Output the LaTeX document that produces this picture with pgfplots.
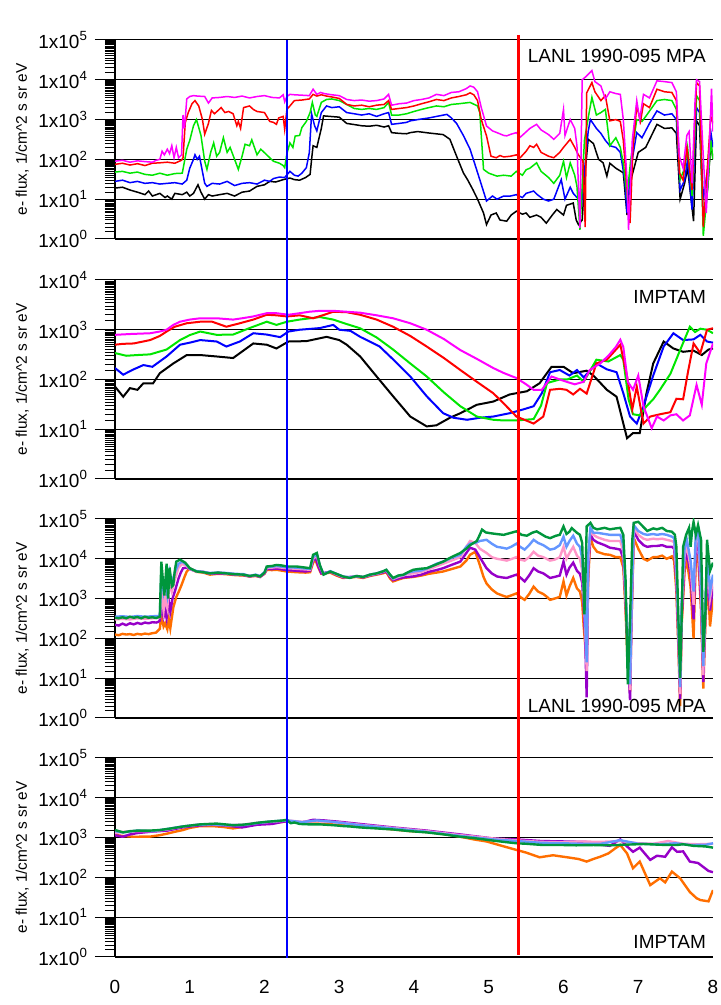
\documentclass[border=0pt]{standalone}
\usepackage{fontspec}
\setmainfont{Liberation Sans}
\usepackage{pgfplots}
\pgfplotsset{compat=1.18}
\pgfplotsset{/pgf/number format/assume math mode=true}

\definecolor{cMag}{RGB}{255,0,255}
\definecolor{cRed}{RGB}{255,0,0}
\definecolor{cGrn}{RGB}{0,230,0}
\definecolor{cBlu}{RGB}{0,0,255}
\definecolor{cOrg}{RGB}{255,110,0}
\definecolor{cPur}{RGB}{150,0,200}
\definecolor{cPnk}{RGB}{255,150,200}
\definecolor{cLbl}{RGB}{100,150,255}
\definecolor{cDgr}{RGB}{0,150,60}

\pgfplotsset{
  panel/.style={
    scale only axis, width=299pt, height=99.5pt,
    xmin=0, xmax=8, ymin=1, ymax=1e5,
    axis x line*=bottom, axis y line*=left,
    axis line style={-, line width=0.6pt},
    tick align=outside,
    major tick length=10pt, minor tick length=5pt,
    every tick/.style={black, line width=0.5pt},
    xtick={0,...,8}, xtick style={draw=none},
    minor xtick={0,...,8},
    ytick={1,10,100,1000,10000,100000},
    yticklabels={1x10\textsuperscript{0},1x10\textsuperscript{1},1x10\textsuperscript{2},1x10\textsuperscript{3},1x10\textsuperscript{4},1x10\textsuperscript{5}},
    minor ytick={1.5,2,2.5,3,3.5,4,4.5,5,5.5,6,6.5,7,7.5,8,8.5,9,9.5,15,20,25,30,35,40,45,50,55,60,65,70,75,80,85,90,95,150,200,250,300,350,400,450,500,550,600,650,700,750,800,850,900,950,1500,2000,2500,3000,3500,4000,4500,5000,5500,6000,6500,7000,7500,8000,8500,9000,9500,15000,20000,25000,30000,35000,40000,45000,50000,55000,60000,65000,70000,75000,80000,85000,90000,95000},
    ymajorgrids, major grid style={black, line width=0.5pt},
    ticklabel style={font=\fontsize{9.5}{11}\selectfont},
    ylabel={e- flux, 1/cm\textasciicircum2 s sr eV},
    ylabel style={at={(axis description cs:-0.155,0.5)}, rotate=0, anchor=center, font=\fontsize{7.7}{9}\selectfont},
    xticklabels={},
  },
  thinl/.style={line width=0.75pt},
  midl/.style={line width=1pt},
  thickl/.style={line width=1.2pt},
}

\begin{document}
\begin{tikzpicture}
\useasboundingbox (0,0) rectangle (360pt,502.5pt);

% ---------------- panel 1: LANL, 5 energies
\begin{axis}[ymode=log, panel, at={(57.5pt,383pt)}, anchor=south west]
\addplot[thinl, black] coordinates {(0,19) (0.1,20) (0.2,17) (0.3,15) (0.4,13) (0.45,16) (0.5,12) (0.6,14) (0.67,11) (0.7,12) (0.76,10) (0.8,14) (0.9,13) (0.96,15) (1.0,12) (1.05,14) (1.11,23) (1.15,15) (1.2,10) (1.25,13) (1.3,12) (1.4,13) (1.5,14) (1.6,12) (1.7,15) (1.8,16) (1.9,21) (2.0,23) (2.07,28) (2.15,27) (2.25,31) (2.34,34) (2.4,31) (2.47,30) (2.55,35) (2.61,42) (2.63,100) (2.65,220) (2.7,200) (2.76,600) (2.79,1240) (2.88,1200) (3.0,1150) (3.1,800) (3.2,750) (3.3,700) (3.4,680) (3.5,720) (3.6,650) (3.66,700) (3.7,470) (3.8,450) (3.9,440) (3.95,470) (4.05,500) (4.2,460) (4.39,420) (4.48,320) (4.57,120) (4.66,46) (4.72,30) (4.79,17) (4.85,10) (4.93,4.5) (4.97,2.3) (5.03,4) (5.1,4.5) (5.15,3) (5.24,2.8) (5.3,4) (5.37,5) (5.45,4.2) (5.5,4.5) (5.55,3.5) (5.64,4) (5.7,3.5) (5.77,2.5) (5.85,4) (5.91,5.5) (6.0,4) (6.04,7) (6.13,8) (6.17,3) (6.2,2.3) (6.25,3) (6.29,50) (6.33,320) (6.4,250) (6.47,100) (6.53,82) (6.58,38) (6.62,80) (6.7,60) (6.8,46) (6.85,4) (6.9,30) (7.0,150) (7.1,200) (7.25,760) (7.35,600) (7.45,620) (7.51,450) (7.56,10) (7.62,25) (7.66,60) (7.74,2.8) (7.78,930) (7.82,700) (7.87,3) (7.93,20) (7.97,250) (8.0,100)};
\addplot[thinl, cBlu] coordinates {(0,28) (0.1,30) (0.2,26) (0.3,28) (0.4,25) (0.5,26) (0.6,24) (0.7,25) (0.8,26) (0.9,24) (0.96,30) (1.0,60) (1.05,100) (1.07,130) (1.1,100) (1.13,120) (1.2,25) (1.23,21) (1.3,25) (1.4,24) (1.5,28) (1.6,22) (1.7,25) (1.8,26) (1.9,24) (2.0,30) (2.07,28) (2.12,33) (2.2,36) (2.27,35) (2.34,50) (2.4,40) (2.45,38) (2.5,45) (2.56,62) (2.6,150) (2.63,1400) (2.67,700) (2.7,520) (2.76,1500) (2.83,2200) (2.9,2000) (3.0,2100) (3.1,1500) (3.2,1400) (3.3,1300) (3.4,1400) (3.5,1200) (3.6,1400) (3.66,1500) (3.7,760) (3.8,800) (3.9,850) (3.95,930) (4.05,1000) (4.2,1100) (4.3,1200) (4.44,1350) (4.5,1100) (4.57,800) (4.66,400) (4.75,180) (4.82,70) (4.88,31) (4.97,9) (5.05,12) (5.11,10) (5.2,12) (5.29,12) (5.37,13) (5.45,11) (5.5,14) (5.6,16) (5.65,13) (5.73,10) (5.8,9) (5.87,10) (5.97,31) (6.02,10) (6.09,20) (6.13,14) (6.2,10) (6.24,6.6) (6.28,50) (6.33,500) (6.36,1000) (6.44,600) (6.5,450) (6.56,300) (6.62,220) (6.7,200) (6.76,150) (6.82,30) (6.85,4.5) (6.9,60) (6.98,470) (7.05,350) (7.15,800) (7.25,1650) (7.35,1300) (7.45,1400) (7.51,1000) (7.56,17) (7.62,30) (7.66,100) (7.72,5.5) (7.78,2000) (7.82,1500) (7.87,10) (7.93,60) (7.97,500) (8.0,200)};
\addplot[thinl, cGrn] coordinates {(0,48) (0.1,50) (0.2,45) (0.3,48) (0.4,42) (0.5,40) (0.6,45) (0.7,40) (0.8,44) (0.9,45) (0.96,180) (1.0,300) (1.05,700) (1.09,1000) (1.15,400) (1.2,90) (1.23,56) (1.28,150) (1.32,260) (1.36,120) (1.4,150) (1.45,350) (1.5,150) (1.54,200) (1.6,100) (1.65,56) (1.7,120) (1.74,240) (1.8,220) (1.83,310) (1.9,130) (1.95,180) (1.98,160) (2.07,110) (2.12,90) (2.2,80) (2.25,70) (2.27,62) (2.3,140) (2.34,260) (2.38,200) (2.41,385) (2.47,400) (2.5,630) (2.56,900) (2.61,1500) (2.64,2700) (2.68,1300) (2.7,1200) (2.76,2700) (2.83,3200) (2.9,3300) (3.0,3000) (3.1,2400) (3.2,1900) (3.3,1800) (3.4,1900) (3.5,1800) (3.6,2000) (3.66,2700) (3.7,1300) (3.8,1300) (3.9,1400) (4.0,1600) (4.1,1800) (4.2,2000) (4.3,2200) (4.4,2100) (4.5,2400) (4.6,2500) (4.75,2700) (4.85,2200) (4.88,1500) (4.93,56) (5.0,45) (5.11,38) (5.2,40) (5.3,38) (5.37,50) (5.45,40) (5.5,55) (5.55,60) (5.64,82) (5.7,50) (5.8,35) (5.87,25) (5.95,40) (6.0,90) (6.04,35) (6.09,82) (6.15,40) (6.18,21) (6.22,1.7) (6.28,300) (6.33,1100) (6.38,3600) (6.44,1300) (6.5,1500) (6.56,1800) (6.62,220) (6.7,350) (6.76,200) (6.8,80) (6.85,12) (6.9,100) (6.98,1000) (7.05,900) (7.1,1200) (7.25,3000) (7.35,3200) (7.45,3000) (7.51,1800) (7.56,31) (7.62,60) (7.66,200) (7.72,12) (7.78,4000) (7.82,3000) (7.87,1.2) (7.93,20) (7.97,300) (8.0,100)};
\addplot[thinl, cRed] coordinates {(0,75) (0.1,80) (0.2,72) (0.3,78) (0.4,70) (0.5,80) (0.6,82) (0.7,85) (0.8,80) (0.89,95) (0.91,110) (0.94,840) (0.98,1500) (1.03,2500) (1.07,3000) (1.12,2200) (1.17,1000) (1.2,430) (1.25,800) (1.29,1700) (1.33,1400) (1.38,1700) (1.42,2000) (1.47,1500) (1.52,1600) (1.58,1400) (1.63,700) (1.65,900) (1.68,600) (1.72,2000) (1.8,2200) (1.85,1800) (1.9,1600) (2.0,1500) (2.07,900) (2.12,850) (2.16,760) (2.19,1100) (2.25,1200) (2.27,570) (2.3,1800) (2.34,2200) (2.4,3000) (2.5,3100) (2.6,3300) (2.65,4300) (2.7,3900) (2.76,4200) (2.83,3900) (2.9,3700) (3.0,3400) (3.1,2400) (3.2,2200) (3.3,2300) (3.4,2100) (3.5,2300) (3.6,2400) (3.66,3000) (3.7,1800) (3.8,1900) (3.9,2000) (4.0,2200) (4.1,2500) (4.2,2800) (4.3,3200) (4.4,3000) (4.5,3500) (4.6,3800) (4.7,4200) (4.75,4700) (4.8,4200) (4.85,3000) (4.9,1000) (4.97,390) (5.03,120) (5.1,110) (5.15,125) (5.2,115) (5.29,120) (5.37,130) (5.42,110) (5.5,160) (5.55,220) (5.6,200) (5.64,240) (5.7,150) (5.8,120) (5.87,110) (5.95,150) (6.0,200) (6.09,320) (6.15,200) (6.2,130) (6.26,90) (6.29,2) (6.31,4700) (6.38,8500) (6.42,5000) (6.5,3000) (6.56,4000) (6.62,930) (6.7,1000) (6.76,900) (6.8,300) (6.85,17) (6.89,2.5) (6.93,200) (6.98,2200) (7.03,900) (7.07,2500) (7.15,2000) (7.25,5800) (7.35,5000) (7.45,4800) (7.51,3000) (7.55,46) (7.6,30) (7.65,200) (7.72,17) (7.78,8500) (7.82,7000) (7.87,2) (7.92,46) (7.97,1200) (8.0,800)};
\addplot[thinl, cMag] coordinates {(0,90) (0.1,95) (0.2,85) (0.3,92) (0.4,88) (0.5,85) (0.55,95) (0.6,100) (0.63,160) (0.66,130) (0.7,180) (0.73,140) (0.76,220) (0.79,110) (0.82,200) (0.85,110) (0.89,130) (0.91,1300) (0.93,600) (0.96,3300) (1.0,3800) (1.05,4000) (1.1,3900) (1.2,3800) (1.25,2600) (1.3,3500) (1.4,3600) (1.5,3800) (1.6,3600) (1.7,3900) (1.8,3500) (1.9,3800) (2.0,4000) (2.1,3600) (2.2,3500) (2.25,4200) (2.27,2800) (2.3,3800) (2.34,4300) (2.4,4200) (2.5,4100) (2.6,4000) (2.65,5800) (2.7,4300) (2.75,4800) (2.8,4500) (2.9,4200) (3.0,4000) (3.1,3200) (3.2,3000) (3.3,3100) (3.4,2900) (3.5,3000) (3.6,3300) (3.66,4300) (3.7,2300) (3.8,2500) (3.9,2600) (4.0,3000) (4.1,3200) (4.2,3500) (4.3,4300) (4.4,4000) (4.5,4800) (4.6,5000) (4.7,6000) (4.75,7000) (4.8,6500) (4.85,5000) (4.9,2000) (4.97,690) (5.05,520) (5.11,470) (5.2,400) (5.24,390) (5.3,430) (5.37,470) (5.42,360) (5.46,420) (5.55,600) (5.64,760) (5.7,550) (5.8,420) (5.87,320) (5.95,450) (6.0,1800) (6.02,400) (6.09,1000) (6.15,600) (6.18,220) (6.22,1.9) (6.25,10000) (6.3,12000) (6.38,17000) (6.42,9000) (6.5,7000) (6.56,3300) (6.62,5000) (6.7,4500) (6.76,4300) (6.8,1000) (6.85,30) (6.87,1.7) (6.92,300) (6.98,3000) (7.02,1000) (7.07,4300) (7.15,3500) (7.25,9400) (7.35,9000) (7.45,8500) (7.51,5000) (7.55,120) (7.6,60) (7.65,400) (7.68,500) (7.72,25) (7.76,3000) (7.78,10000) (7.82,9000) (7.87,120) (7.91,4.5) (7.95,200) (7.98,6000) (8.0,500)};
\node[anchor=east, font=\fontsize{9.5}{11}\selectfont] at (axis description cs:1,0.92) {LANL 1990-095 MPA};
\node[anchor=base, font=\fontsize{11}{13}\selectfont] at (axis description cs:0.51,1) [yshift=5.5pt] {May 15, 2005};
\coordinate (bTop) at (axis cs:2.3,1e5);
\coordinate (rTop) at (axis cs:5.4,1e5);
\end{axis}

% ---------------- panel 2: IMPTAM, 5 energies
\begin{axis}[ymode=log, panel, at={(57.5pt,263pt)}, anchor=south west, ymax=1e4,
  ytick={1,10,100,1000,10000},
  yticklabels={1x10\textsuperscript{0},1x10\textsuperscript{1},1x10\textsuperscript{2},1x10\textsuperscript{3},1x10\textsuperscript{4}},
  minor ytick={1.5,2,2.5,3,3.5,4,4.5,5,5.5,6,6.5,7,7.5,8,8.5,9,9.5,15,20,25,30,35,40,45,50,55,60,65,70,75,80,85,90,95,150,200,250,300,350,400,450,500,550,600,650,700,750,800,850,900,950,1500,2000,2500,3000,3500,4000,4500,5000,5500,6000,6500,7000,7500,8000,8500,9000,9500}]
\addplot[midl, black] coordinates {(0,72) (0.11,45) (0.2,67) (0.3,62) (0.38,84) (0.51,84) (0.6,134) (0.78,210) (0.96,310) (1.14,310) (1.36,290) (1.58,270) (1.85,530) (2.03,500) (2.16,420) (2.32,580) (2.56,590) (2.83,720) (3.0,620) (3.1,500) (3.28,290) (3.5,115) (3.72,46) (3.95,18) (4.17,11.4) (4.3,12) (4.48,17) (4.62,21) (4.84,31) (5.06,36) (5.28,50) (5.51,58) (5.68,84) (5.84,180) (6.0,180) (6.13,134) (6.31,150) (6.4,120) (6.58,62) (6.71,45) (6.85,6.6) (6.93,8.4) (7.02,8.4) (7.11,53) (7.2,210) (7.34,580) (7.47,420) (7.6,360) (7.74,380) (7.85,310) (7.94,400) (8.0,420)};
\addplot[midl, cBlu] coordinates {(0,170) (0.11,125) (0.25,160) (0.38,195) (0.5,180) (0.69,290) (0.87,500) (1.0,550) (1.14,620) (1.36,580) (1.49,460) (1.67,580) (1.85,850) (2.03,800) (2.21,710) (2.32,920) (2.47,1000) (2.74,1080) (2.92,1250) (3.0,1000) (3.15,950) (3.28,720) (3.54,460) (3.75,230) (3.95,115) (4.17,46) (4.39,21) (4.53,17) (4.71,15.5) (4.88,17) (5.06,18) (5.28,21) (5.46,25) (5.6,29) (5.71,53) (5.82,140) (5.95,155) (6.08,120) (6.18,155) (6.27,110) (6.44,210) (6.58,160) (6.71,140) (6.8,53) (6.89,18) (6.98,13) (7.07,29) (7.2,120) (7.34,460) (7.47,850) (7.6,620) (7.74,640) (7.83,790) (7.92,580) (8.0,550)};
\addplot[midl, cGrn] coordinates {(0,340) (0.15,300) (0.3,310) (0.47,320) (0.69,400) (0.87,620) (1.0,780) (1.14,920) (1.36,790) (1.58,800) (1.8,1080) (2.03,1450) (2.16,1250) (2.3,1450) (2.47,1600) (2.74,1800) (2.92,1600) (3.1,1300) (3.28,1070) (3.5,700) (3.72,400) (3.95,210) (4.17,115) (4.4,55) (4.62,29) (4.84,18) (5.06,15.5) (5.2,15) (5.37,15) (5.6,16) (5.7,30) (5.78,85) (5.95,100) (6.05,100) (6.18,120) (6.27,90) (6.44,250) (6.6,230) (6.76,310) (6.8,250) (6.87,40) (6.93,20) (7.02,19) (7.11,29) (7.2,40) (7.29,62) (7.43,130) (7.56,390) (7.69,1150) (7.76,900) (7.83,1050) (7.92,1000) (8.0,850)};
\addplot[midl, cRed] coordinates {(0,500) (0.1,520) (0.25,530) (0.47,620) (0.6,750) (0.69,920) (0.8,1150) (0.96,1350) (1.14,1450) (1.3,1450) (1.49,1150) (1.67,1350) (1.85,1600) (2.03,2000) (2.16,1950) (2.3,1850) (2.47,1950) (2.65,1700) (2.8,2000) (2.92,2300) (3.1,2250) (3.28,2000) (3.5,1600) (3.72,1150) (3.95,750) (4.17,460) (4.4,270) (4.62,155) (4.84,90) (5.06,53) (5.2,33) (5.37,18) (5.5,15) (5.6,13) (5.73,18) (5.82,62) (5.95,65) (6.04,62) (6.13,50) (6.22,65) (6.31,52) (6.44,210) (6.58,250) (6.76,500) (6.85,115) (6.92,25) (6.98,72) (7.07,13) (7.16,18) (7.29,20) (7.43,22) (7.51,41) (7.6,40) (7.67,155) (7.74,530) (7.83,340) (7.92,1000) (8.0,1070)};
\addplot[midl, cMag] coordinates {(0,790) (0.2,820) (0.47,850) (0.6,920) (0.69,1000) (0.78,1250) (0.87,1450) (1.0,1600) (1.14,1700) (1.36,1700) (1.58,1600) (1.7,1700) (1.85,1850) (2.03,2150) (2.16,2150) (2.32,2000) (2.47,2150) (2.6,2300) (2.74,2400) (2.92,2400) (3.1,2300) (3.28,2200) (3.5,1950) (3.72,1700) (3.95,1350) (4.17,1000) (4.4,650) (4.62,390) (4.84,260) (5.06,170) (5.2,135) (5.37,107) (5.5,80) (5.6,62) (5.71,62) (5.84,115) (5.95,100) (6.04,90) (6.15,80) (6.27,90) (6.35,155) (6.49,210) (6.6,300) (6.7,450) (6.76,630) (6.8,450) (6.86,90) (6.93,62) (7.0,120) (7.07,29) (7.18,10.5) (7.25,18) (7.34,15) (7.43,19) (7.51,20) (7.6,15) (7.69,19) (7.78,78) (7.85,31) (7.91,210) (8.0,530)};
\node[anchor=east, font=\fontsize{9.5}{11}\selectfont] at (axis description cs:1,0.915) {IMPTAM};
\end{axis}

% ---------------- panel 3: LANL, differential channels
\begin{axis}[ymode=log, panel, at={(57.5pt,143.5pt)}, anchor=south west]
\addplot[thickl, cOrg] coordinates {(0,125) (0.05,120) (0.1,130) (0.15,125) (0.2,128) (0.25,122) (0.3,130) (0.35,125) (0.4,132) (0.45,128) (0.5,135) (0.55,140) (0.58,160) (0.6,175) (0.62,390) (0.65,200) (0.67,240) (0.7,170) (0.72,300) (0.74,180) (0.78,600) (0.82,1100) (0.86,1600) (0.89,2200) (0.93,3500) (0.96,4800) (1.0,5800) (1.09,4700) (1.18,4500) (1.27,4000) (1.38,4200) (1.49,4100) (1.6,3900) (1.72,3800) (1.8,3600) (1.88,3700) (1.94,3500) (2.0,4200) (2.03,5300) (2.1,5200) (2.16,5300) (2.3,4800) (2.43,4600) (2.55,4500) (2.61,4600) (2.65,8000) (2.68,9500) (2.72,6000) (2.76,4200) (2.88,4500) (2.96,3800) (3.05,3300) (3.14,3400) (3.23,3500) (3.32,3300) (3.41,3700) (3.5,4000) (3.58,4300) (3.63,4600) (3.68,3200) (3.72,2700) (3.79,3000) (3.86,3300) (3.92,3400) (3.99,3500) (4.1,3800) (4.2,4200) (4.3,4500) (4.39,4800) (4.5,5500) (4.62,6400) (4.7,9000) (4.75,12600) (4.82,15000) (4.88,7000) (4.93,3500) (4.97,2400) (5.04,1700) (5.11,1350) (5.18,1200) (5.24,1100) (5.3,1200) (5.37,1350) (5.42,1100) (5.48,930) (5.54,1300) (5.6,2000) (5.66,1500) (5.73,1300) (5.78,1100) (5.82,930) (5.88,1000) (5.95,1100) (6.0,2700) (6.04,1200) (6.08,2000) (6.13,3300) (6.18,1800) (6.22,1500) (6.25,800) (6.27,200) (6.31,25) (6.33,3000) (6.36,33000) (6.4,20000) (6.45,15000) (6.55,13000) (6.62,12600) (6.7,11000) (6.76,11000) (6.8,6000) (6.83,500) (6.86,20) (6.89,4.5) (6.91,300) (6.94,33000) (7.0,18000) (7.07,10000) (7.12,9000) (7.2,11000) (7.25,11000) (7.32,12000) (7.38,10000) (7.45,11500) (7.48,9000) (7.51,1500) (7.54,40) (7.56,2) (7.58,200) (7.62,5000) (7.65,9000) (7.7,2000) (7.74,100) (7.77,10000) (7.8,12000) (7.84,500) (7.87,5.5) (7.9,300) (7.93,3000) (7.96,200) (8.0,1000)};
\addplot[thickl, cPur] coordinates {(0,220) (0.05,210) (0.1,235) (0.15,215) (0.2,240) (0.25,225) (0.3,245) (0.35,230) (0.4,250) (0.45,240) (0.5,255) (0.55,250) (0.58,260) (0.6,280) (0.62,700) (0.65,350) (0.67,500) (0.69,320) (0.72,900) (0.74,470) (0.77,1000) (0.8,1500) (0.85,3200) (0.88,4500) (0.91,5800) (0.96,6000) (1.0,5500) (1.09,4800) (1.18,4700) (1.27,4200) (1.38,4300) (1.49,4200) (1.6,4000) (1.72,3900) (1.8,3600) (1.88,3800) (1.94,3500) (2.0,4300) (2.03,5600) (2.1,5500) (2.16,5700) (2.3,5200) (2.43,5000) (2.55,4800) (2.61,5000) (2.65,9000) (2.68,11000) (2.72,6500) (2.76,4300) (2.88,4700) (2.96,4000) (3.05,3400) (3.14,3500) (3.23,3600) (3.32,3400) (3.41,3800) (3.5,4100) (3.58,4500) (3.63,4800) (3.68,3500) (3.72,2900) (3.79,3200) (3.86,3400) (3.92,3500) (3.99,3600) (4.1,4000) (4.2,4700) (4.3,5200) (4.39,5800) (4.5,7000) (4.62,8500) (4.7,14000) (4.75,19000) (4.82,17000) (4.88,11000) (4.97,5800) (5.04,4300) (5.11,3600) (5.18,3400) (5.24,3300) (5.3,3600) (5.37,4000) (5.42,3400) (5.48,2700) (5.54,3800) (5.6,5800) (5.66,4800) (5.73,4300) (5.82,3300) (5.88,3500) (5.95,3800) (6.0,8500) (6.04,4000) (6.08,6000) (6.13,8000) (6.18,5000) (6.22,4200) (6.25,2500) (6.27,600) (6.29,100) (6.31,3.3) (6.33,5000) (6.36,40000) (6.4,30000) (6.45,26000) (6.55,22000) (6.62,19000) (6.7,18000) (6.76,17000) (6.8,10000) (6.83,800) (6.86,40) (6.89,2.8) (6.91,300) (6.94,50000) (7.0,30000) (7.07,22000) (7.12,20000) (7.2,21000) (7.25,21000) (7.32,22000) (7.38,20000) (7.45,20000) (7.48,18000) (7.51,2500) (7.54,60) (7.56,3) (7.58,300) (7.62,8000) (7.65,15000) (7.7,4000) (7.74,300) (7.77,20000) (7.8,25000) (7.84,800) (7.87,8) (7.9,500) (7.93,5000) (7.96,500) (8.0,2000)};
\addplot[thickl, cPnk] coordinates {(0,300) (0.1,310) (0.2,300) (0.3,320) (0.4,310) (0.5,320) (0.58,330) (0.6,340) (0.62,1500) (0.65,500) (0.67,1100) (0.7,600) (0.73,2500) (0.76,1500) (0.8,3000) (0.85,6000) (0.9,7500) (0.96,6500) (1.0,5600) (1.09,4800) (1.18,4700) (1.27,4300) (1.38,4500) (1.49,4300) (1.6,4100) (1.72,4000) (1.8,3700) (1.88,3900) (1.94,3600) (2.0,4500) (2.03,5900) (2.1,6000) (2.16,6200) (2.3,5800) (2.43,5600) (2.55,5400) (2.61,5300) (2.65,10000) (2.7,12000) (2.74,6500) (2.79,4100) (2.88,4800) (2.96,4100) (3.05,3500) (3.14,3400) (3.23,3700) (3.32,3500) (3.41,3900) (3.5,4200) (3.58,4700) (3.63,5100) (3.68,3800) (3.72,3100) (3.79,3500) (3.86,3800) (3.92,4200) (3.99,4300) (4.1,4700) (4.2,5500) (4.3,6500) (4.39,7500) (4.5,9000) (4.62,11000) (4.7,20000) (4.75,28000) (4.82,25000) (4.88,18000) (4.97,14000) (5.04,11000) (5.11,10000) (5.18,9500) (5.24,9000) (5.3,9800) (5.37,11000) (5.42,9500) (5.48,9000) (5.54,11000) (5.6,15000) (5.66,12000) (5.73,11000) (5.82,9000) (5.88,9500) (5.95,11000) (6.0,20000) (6.04,10000) (6.08,14000) (6.13,20000) (6.18,12000) (6.22,10000) (6.25,5000) (6.27,1000) (6.29,200) (6.31,15) (6.33,8000) (6.36,50000) (6.4,40000) (6.45,35000) (6.55,30000) (6.62,28000) (6.7,28000) (6.76,28000) (6.8,15000) (6.83,1000) (6.86,60) (6.89,5) (6.91,500) (6.94,60000) (7.0,40000) (7.07,32000) (7.12,30000) (7.2,32000) (7.25,31000) (7.32,32000) (7.38,30000) (7.45,28000) (7.48,26000) (7.51,4000) (7.54,100) (7.56,4) (7.58,500) (7.62,12000) (7.65,22000) (7.7,6000) (7.74,700) (7.77,35000) (7.8,40000) (7.84,1500) (7.87,12) (7.9,800) (7.93,8000) (7.96,1000) (8.0,3000)};
\addplot[thickl, cLbl] coordinates {(0,350) (0.1,360) (0.2,345) (0.3,365) (0.4,350) (0.5,360) (0.58,365) (0.6,380) (0.62,4000) (0.65,1500) (0.67,2500) (0.7,1200) (0.73,4500) (0.76,2500) (0.8,4500) (0.85,7500) (0.9,8500) (0.96,7000) (1.0,5700) (1.09,4900) (1.18,4700) (1.27,4400) (1.38,4500) (1.49,4400) (1.6,4200) (1.72,4100) (1.8,3700) (1.88,4000) (1.94,3700) (2.0,4600) (2.03,6200) (2.1,6300) (2.16,6600) (2.3,6100) (2.43,6000) (2.55,5700) (2.61,5600) (2.65,11000) (2.7,13000) (2.74,6800) (2.79,4100) (2.88,4900) (2.96,4200) (3.05,3600) (3.14,3400) (3.23,3700) (3.32,3500) (3.41,4000) (3.5,4300) (3.58,4800) (3.63,5200) (3.68,3900) (3.72,3200) (3.79,3700) (3.86,3900) (3.92,4500) (3.99,4800) (4.1,5100) (4.2,6000) (4.3,7500) (4.39,8500) (4.5,10500) (4.62,12600) (4.7,20000) (4.75,24000) (4.82,25000) (4.88,28000) (4.97,30000) (5.04,24000) (5.11,20000) (5.18,19000) (5.24,18000) (5.3,20000) (5.37,24000) (5.42,20000) (5.48,17000) (5.54,22000) (5.6,30000) (5.66,25000) (5.73,22000) (5.82,17000) (5.88,18000) (5.95,22000) (6.0,36000) (6.04,20000) (6.08,28000) (6.13,38000) (6.18,24000) (6.22,20000) (6.25,10000) (6.27,2000) (6.29,300) (6.31,25) (6.33,12000) (6.36,60000) (6.4,45000) (6.45,45000) (6.55,42000) (6.62,40000) (6.7,40000) (6.76,40000) (6.8,22000) (6.83,1500) (6.86,100) (6.89,7) (6.91,700) (6.94,70000) (7.0,50000) (7.07,42000) (7.12,40000) (7.2,42000) (7.25,40000) (7.32,42000) (7.38,40000) (7.45,36000) (7.48,33000) (7.51,6000) (7.54,150) (7.56,6) (7.58,800) (7.62,18000) (7.65,30000) (7.7,9000) (7.74,1500) (7.77,45000) (7.8,55000) (7.84,2500) (7.87,20) (7.9,1200) (7.93,12000) (7.96,1500) (8.0,4000)};
\addplot[thickl, cDgr] coordinates {(0,330) (0.05,320) (0.1,340) (0.15,320) (0.2,350) (0.25,330) (0.3,345) (0.35,320) (0.4,350) (0.45,330) (0.5,340) (0.55,325) (0.58,340) (0.6,350) (0.61,2000) (0.62,8500) (0.64,3000) (0.66,1200) (0.69,7500) (0.71,1000) (0.73,6000) (0.76,2000) (0.78,2200) (0.8,5000) (0.82,8500) (0.87,9500) (0.94,8000) (1.0,5800) (1.09,4800) (1.18,4600) (1.27,4300) (1.38,4500) (1.49,4300) (1.6,4100) (1.72,4000) (1.8,3700) (1.88,3900) (1.94,3600) (2.0,4500) (2.03,6400) (2.1,6600) (2.16,7000) (2.23,6800) (2.3,6400) (2.43,6400) (2.55,6000) (2.61,5800) (2.65,12600) (2.7,14000) (2.74,7000) (2.79,4000) (2.88,4800) (2.96,4200) (3.05,3600) (3.14,3300) (3.23,3700) (3.32,3500) (3.41,4000) (3.5,4300) (3.58,4800) (3.63,5300) (3.68,4000) (3.72,3300) (3.79,3800) (3.86,4000) (3.92,4600) (3.99,5300) (4.08,5600) (4.17,5800) (4.28,7000) (4.39,8500) (4.5,11000) (4.62,14000) (4.7,18000) (4.75,22000) (4.84,28000) (4.88,40000) (4.91,54000) (4.96,46000) (5.02,44000) (5.1,42000) (5.2,40000) (5.28,44000) (5.37,49000) (5.44,40000) (5.51,38000) (5.58,45000) (5.64,49000) (5.7,42000) (5.76,36000) (5.82,33000) (5.9,38000) (5.95,40000) (6.0,65000) (6.04,42000) (6.08,48000) (6.11,59000) (6.18,45000) (6.22,40000) (6.25,25000) (6.28,400) (6.3,10000) (6.31,65000) (6.36,80000) (6.4,60000) (6.45,55000) (6.55,60000) (6.62,55000) (6.7,58000) (6.76,60000) (6.8,40000) (6.83,3000) (6.86,7) (6.89,300) (6.92,30000) (6.94,80000) (7.0,85000) (7.03,75000) (7.12,50000) (7.2,58000) (7.25,55000) (7.32,60000) (7.38,50000) (7.45,48000) (7.49,40000) (7.51,20000) (7.54,200) (7.56,10) (7.58,300) (7.6,20000) (7.64,40000) (7.68,60000) (7.7,20000) (7.72,50000) (7.74,84000) (7.77,40000) (7.8,70000) (7.84,30000) (7.87,46) (7.9,500) (7.92,30000) (7.96,5000) (8.0,8000)};
\node[anchor=east, font=\fontsize{9.5}{11}\selectfont] at (axis description cs:1,0.06) {LANL 1990-095 MPA};
\end{axis}

% ---------------- panel 4: IMPTAM, differential channels
\begin{axis}[ymode=log, panel, at={(57.5pt,24pt)}, anchor=south west,
  xticklabels={0,1,2,3,4,5,6,7,8}, xticklabel style={yshift=2pt}]
\addplot[thickl, cOrg] coordinates {(0,1170) (0.1,1100) (0.25,1050) (0.47,1060) (0.6,1150) (0.69,1250) (0.8,1400) (0.91,1550) (1.0,1750) (1.14,1950) (1.3,1950) (1.45,1850) (1.58,1700) (1.7,1850) (1.8,2050) (1.9,2200) (2.03,2300) (2.15,2400) (2.3,2550) (2.4,2400) (2.5,2300) (2.7,2250) (2.9,2150) (3.1,2000) (3.28,1850) (3.5,1750) (3.72,1600) (3.95,1450) (4.17,1380) (4.4,1230) (4.62,1050) (4.8,900) (4.97,800) (5.15,640) (5.37,490) (5.5,420) (5.68,320) (5.86,360) (6.05,320) (6.2,290) (6.31,250) (6.4,290) (6.49,330) (6.6,400) (6.7,550) (6.76,650) (6.85,400) (6.93,170) (7.02,250) (7.16,64) (7.29,95) (7.36,75) (7.45,140) (7.56,95) (7.69,43) (7.78,30) (7.83,27) (7.94,25) (8.0,48)};
\addplot[thickl, cPur] coordinates {(0,1150) (0.1,1050) (0.2,1200) (0.3,1300) (0.47,1400) (0.7,1500) (0.9,1800) (1.1,2000) (1.3,2100) (1.5,2000) (1.7,1800) (1.9,2100) (2.1,2200) (2.3,2600) (2.5,2400) (2.65,2800) (2.8,2700) (3.0,2500) (3.28,2200) (3.72,1800) (4.17,1500) (4.62,1200) (5.06,950) (5.37,900) (5.7,820) (6.0,800) (6.3,780) (6.5,660) (6.62,620) (6.76,900) (6.85,600) (6.93,440) (7.02,560) (7.16,275) (7.25,350) (7.36,330) (7.45,570) (7.52,440) (7.6,450) (7.69,250) (7.8,230) (7.94,145) (8.0,135)};
\addplot[thickl, cPnk] coordinates {(0,1300) (0.1,1400) (0.3,1450) (0.5,1450) (0.7,1600) (0.9,1900) (1.1,2100) (1.3,2200) (1.5,2050) (1.7,2100) (1.9,2350) (2.1,2500) (2.3,2700) (2.5,2500) (2.7,2600) (3.0,2400) (3.28,2100) (3.72,1750) (4.17,1450) (4.62,1150) (5.06,950) (5.37,850) (5.7,780) (6.0,760) (6.2,800) (6.5,780) (6.76,820) (7.0,720) (7.2,700) (7.4,820) (7.6,700) (7.8,680) (8.0,700)};
\addplot[thickl, cLbl] coordinates {(0,1450) (0.1,1350) (0.3,1500) (0.5,1450) (0.7,1650) (0.9,1900) (1.1,2100) (1.3,2150) (1.5,2050) (1.7,2050) (1.9,2300) (2.1,2550) (2.3,2700) (2.5,2450) (2.7,2700) (2.9,2500) (3.28,2050) (3.72,1700) (4.17,1400) (4.62,1100) (5.06,900) (5.37,820) (5.7,740) (6.0,720) (6.2,700) (6.5,700) (6.76,860) (7.0,700) (7.3,680) (7.5,720) (7.7,650) (7.9,660) (8.0,720)};
\addplot[thickl, cDgr] coordinates {(0,1550) (0.11,1350) (0.2,1450) (0.3,1500) (0.47,1500) (0.6,1550) (0.75,1700) (0.91,1900) (1.0,2000) (1.14,2150) (1.25,2200) (1.36,2250) (1.47,2150) (1.58,2050) (1.7,2100) (1.8,2200) (1.9,2350) (2.03,2500) (2.15,2600) (2.25,2700) (2.3,2800) (2.35,2300) (2.4,2400) (2.47,2200) (2.6,2150) (2.74,2150) (2.92,2050) (3.05,1950) (3.15,1900) (3.28,1800) (3.5,1700) (3.72,1600) (3.95,1450) (4.17,1350) (4.4,1200) (4.62,1050) (4.84,950) (5.06,840) (5.2,780) (5.37,720) (5.5,700) (5.73,650) (6.0,650) (6.17,640) (6.4,650) (6.62,640) (6.8,660) (7.07,690) (7.3,660) (7.51,650) (7.6,680) (7.74,620) (7.9,600) (8.0,560)};
\node[anchor=east, font=\fontsize{9.5}{11}\selectfont] at (axis description cs:1,0.075) {IMPTAM};
\coordinate (bBot) at (axis cs:2.3,1);
\coordinate (rBot) at (axis cs:5.4,1);
\end{axis}

\draw[cBlu, line width=1.4pt] (bTop) -- ([yshift=-0.5pt]bBot);
\draw[cRed, line width=1.4pt] ([yshift=2.5pt]rTop) -- ([yshift=1pt]rBot);
\end{tikzpicture}
\end{document}
